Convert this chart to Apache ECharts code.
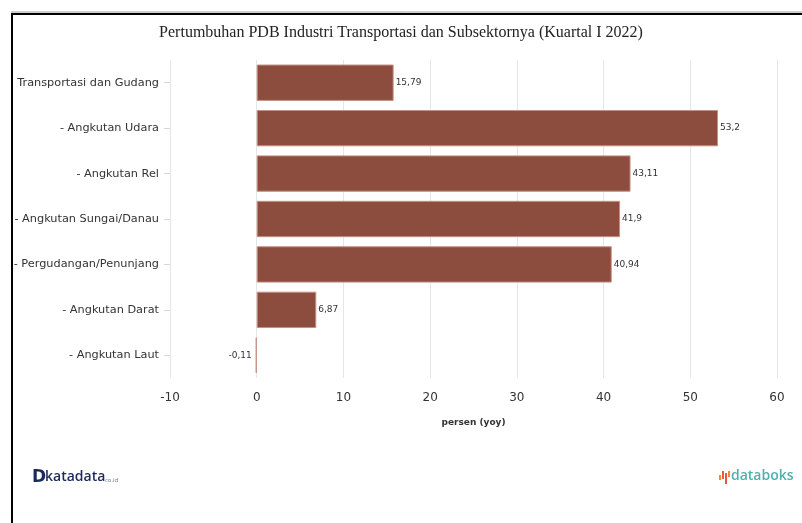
<!DOCTYPE html>
<html>
<head>
<meta charset="utf-8">
<script src="https://cdn.jsdelivr.net/npm/echarts@6/dist/echarts.min.js"></script>
<style>
  html, body { margin: 0; padding: 0; background: #fff; }
  #chart { width: 802px; height: 523px; }
</style>
</head>
<body>
<div id="chart"></div>
<script>
// Growth of the transport industry GDP and its sub-sectors, Q1 2022 (percent, yoy)
const categories = [
  'Transportasi dan Gudang',
  '- Angkutan Udara',
  '- Angkutan Rel',
  '- Angkutan Sungai/Danau',
  '- Pergudangan/Penunjang',
  '- Angkutan Darat',
  '- Angkutan Laut'
];
const values = [15.79, 53.2, 43.11, 41.9, 40.94, 6.87, -0.11];
const xTicks = [-10, 0, 10, 20, 30, 40, 50, 60];

const fmt = v => String(v).replace('.', ',');

const chart = echarts.init(document.getElementById('chart'), null, { renderer: 'canvas' });

chart.setOption({
  backgroundColor: '#ffffff',
  animation: false,
  title: {
    text: 'Pertumbuhan PDB Industri Transportasi dan Subsektornya (Kuartal I 2022)',
    left: 'center',
    top: 20,
    textStyle: {
      fontFamily: 'Liberation Serif',
      fontWeight: 'normal',
      fontSize: 16,
      color: '#222'
    }
  },
  grid: { left: 170, right: 25, top: 60, bottom: 145, containLabel: false },
  xAxis: {
    type: 'value',
    min: xTicks[0],
    max: xTicks[xTicks.length - 1],
    interval: 10,
    name: 'persen (yoy)',
    nameLocation: 'middle',
    nameGap: 40,
    nameTextStyle: { fontFamily: 'DejaVu Sans', fontSize: 9, fontWeight: 'bold', color: '#333' },
    axisLine: { show: false },
    axisTick: { show: false },
    axisLabel: { fontFamily: 'DejaVu Sans', fontSize: 12, color: '#333', margin: 14 },
    splitLine: { show: true, lineStyle: { color: '#e6e6e6', width: 1 } }
  },
  yAxis: {
    type: 'category',
    data: categories,
    inverse: true,
    axisLine: { show: false, onZero: false },
    axisTick: { show: true, alignWithLabel: true, length: 6, lineStyle: { color: '#d8d8d8' } },
    axisLabel: { fontFamily: 'DejaVu Sans', fontSize: 11.3, color: '#333', margin: 11 }
  },
  series: [{
    type: 'bar',
    data: values.map(v => v < 0
      ? { value: v, label: { position: 'left', distance: 4 }, itemStyle: { color: '#c49084' } }
      : v),
    barWidth: '80%',
    itemStyle: {
      color: '#8c4c3e',
      borderColor: '#c49084',
      borderWidth: 1
    },
    label: {
      show: true,
      position: 'right',
      distance: 2,
      fontFamily: 'DejaVu Sans',
      fontSize: 9,
      color: '#333',
      formatter: p => fmt(p.value)
    }
  }],
  graphic: [
    // frame
    { type: 'line', shape: { x1: 11, y1: 12, x2: 802, y2: 12 }, style: { stroke: '#9a9a9a', lineWidth: 1 }, z: 100 },
    { type: 'line', shape: { x1: 11, y1: 14, x2: 802, y2: 14 }, style: { stroke: '#000', lineWidth: 2 }, z: 100 },
    { type: 'line', shape: { x1: 12, y1: 13, x2: 12, y2: 523 }, style: { stroke: '#000', lineWidth: 2 }, z: 100 },
    // katadata mark
    { type: 'text', left: 32, top: 469, style: { text: 'D', font: 'bold 17px "DejaVu Sans"', fill: '#1b2a5c' }, z: 100 },
    { type: 'text', left: 45, top: 470, style: { text: 'katadata', font: '600 14px "Open Sans"', fill: '#1b2a5c' }, z: 100 },
    { type: 'text', left: 105, top: 477, style: { text: 'co.id', font: '6px "Open Sans"', fill: '#6b7390' }, z: 100 },
    // databoks mark
    { type: 'rect', shape: { x: 719, y: 475, width: 2, height: 5 }, style: { fill: '#f0873a' }, z: 100 },
    { type: 'rect', shape: { x: 722, y: 471, width: 2, height: 8 }, style: { fill: '#e8563f' }, z: 100 },
    { type: 'rect', shape: { x: 725, y: 473, width: 2, height: 11 }, style: { fill: '#e8563f' }, z: 100 },
    { type: 'rect', shape: { x: 728, y: 471, width: 2, height: 6 }, style: { fill: '#f0873a' }, z: 100 },
    { type: 'text', left: 731, top: 469, style: { text: 'databoks', font: '600 14px "Open Sans"', fill: '#4fb0ad' }, z: 100 }
  ]
});
</script>
</body>
</html>
